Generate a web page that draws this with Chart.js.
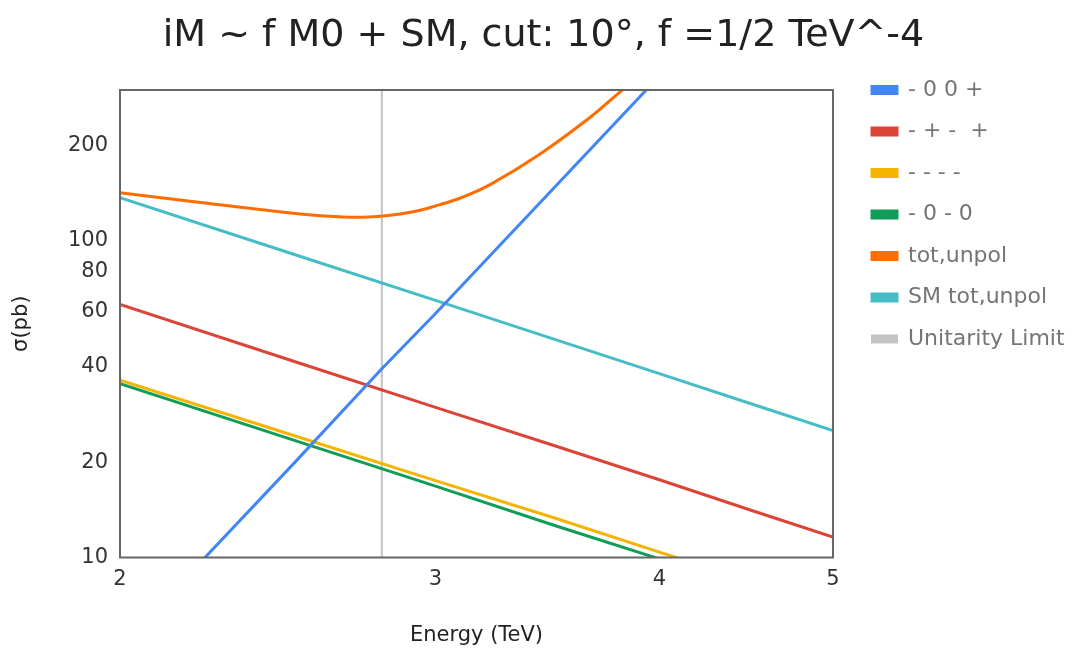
<!DOCTYPE html>
<html>
<head>
<meta charset="utf-8">
<script src="https://cdn.jsdelivr.net/npm/chart.js@4.4.1/dist/chart.umd.min.js"></script>
<style>
  html, body { margin: 0; padding: 0; background: #fff; }
  #wrap { width: 1083px; height: 660px; }
</style>
</head>
<body>
<div id="wrap"><canvas id="chart" width="1083" height="660"></canvas></div>
<script>
const FONT = "'DejaVu Sans', 'Liberation Sans', sans-serif"

// values (energy in TeV, sigma in pb)
const energyGrid = [2, 2.5, 3, 3.5, 4, 4.5, 5]
const xTicks = [2, 3, 4, 5]
const yTicks = [10, 20, 40, 60, 80, 100, 200]
const yRange = [10, 300]

const blueEnergy = [2.2, 2.5, 2.8, 3.0, 3.4, 4.0]
const blueXsec = [9.2, 19.8, 39.5, 59, 125, 332]

const redXsec = [63, 41.7, 29.8, 22.5, 17.6, 14.1, 11.6]
const yellowXsec = [36.3, 24.3, 17.5, 13.3, 10.4, 8.4, 7.0]
const greenXsec = [35.4, 23.5, 16.8, 12.6, 9.9, 8.0, 6.6]
const smXsec = [137, 90.8, 64.9, 48.8, 38.1, 30.6, 25.2]

const totEnergy = [2, 2.2, 2.4, 2.6, 2.75, 2.9, 3.02, 3.1, 3.22, 3.43, 3.66, 3.82, 4.0]
const totXsec = [142, 133, 125.5, 120, 119, 123, 130.5, 137, 151, 188, 246, 302, 370]

const unitarityEnergy = 2.8

const COLORS = {
  blue: "#4285f4",
  red: "#db4437",
  yellow: "#f4b400",
  green: "#0f9d58",
  orange: "#ff6d00",
  cyan: "#46bdc6",
  gray: "#c4c4c4"
}

const LEGEND_PAD = 19.5
const LEGEND_FONT = 22
const LEGEND_WIDTH = 250

const pts = (xs, ys) => xs.map((x, i) => ({ x, y: ys[i] }))

function line(label, data, color, extra) {
  return Object.assign({
    label,
    data,
    borderColor: color,
    backgroundColor: color,
    borderWidth: 3,
    pointRadius: 0,
    fill: false,
    tension: 0
  }, extra || {})
}

const datasets = [
  line("- 0 0 +", pts(blueEnergy, blueXsec), COLORS.blue),
  line("- + -  +", pts(energyGrid, redXsec), COLORS.red),
  line("- - - -", pts(energyGrid, yellowXsec), COLORS.yellow),
  line("- 0 - 0", pts(energyGrid, greenXsec), COLORS.green),
  line("tot,unpol", pts(totEnergy, totXsec), COLORS.orange, { tension: 0.4 }),
  line("SM tot,unpol", pts(energyGrid, smXsec), COLORS.cyan),
  line("Unitarity Limit", pts([unitarityEnergy, unitarityEnergy], yRange), COLORS.gray, { borderWidth: 2 })
]

// frame around the plot area
const frame = {
  id: "frame",
  afterDatasetsDraw(chart) {
    const { ctx, chartArea: a } = chart
    ctx.save()
    ctx.strokeStyle = "#666"
    ctx.lineWidth = 2
    ctx.strokeRect(a.left, a.top, a.right - a.left, a.bottom - a.top)
    ctx.restore()
  }
}

// fixed-width legend column, items lined up with the top of the plot
const legendPlacement = {
  id: "legendPlacement",
  beforeLayout(chart) {
    const legend = chart.legend
    if (legend._fixedFit) return
    const fit = legend.fit
    legend.fit = function () {
      fit.call(this)
      this.width = LEGEND_WIDTH
    }
    legend._fixedFit = true
  },
  afterLayout(chart) {
    const legend = chart.legend
    const a = chart.chartArea
    legend.left = a.right + LEGEND_PAD
    legend.right = legend.left + LEGEND_WIDTH
    legend.top = a.top - LEGEND_PAD - LEGEND_FONT / 2
  }
}

const tickFont = { family: FONT, size: 21 }

new Chart(document.getElementById("chart"), {
  type: "line",
  data: { datasets },
  plugins: [frame, legendPlacement],
  options: {
    responsive: false,
    animation: false,
    layout: { padding: { left: 4, right: 0, top: 0, bottom: 4 } },
    plugins: {
      title: {
        display: true,
        text: "iM ~ f M0 + SM, cut: 10°, f =1/2 TeV^-4",
        color: "#222",
        font: { family: FONT, size: 38, weight: "normal" },
        padding: { top: 13, bottom: 31.4 }
      },
      legend: {
        position: "right",
        align: "start",
        labels: {
          boxWidth: 25,
          boxHeight: 7,
          padding: LEGEND_PAD,
          color: "#757575",
          font: { family: FONT, size: LEGEND_FONT }
        }
      },
      tooltip: { enabled: false }
    },
    scales: {
      x: {
        type: "logarithmic",
        min: 2,
        max: 5,
        grid: { display: false, drawTicks: false },
        border: { display: false },
        afterBuildTicks: (axis) => { axis.ticks = xTicks.map(v => ({ value: v })) },
        afterFit: (axis) => { axis.height = 98.5 },
        ticks: { autoSkip: false, maxRotation: 0, padding: 9, color: "#333", font: tickFont, callback: (v) => String(v) },
        title: { display: true, text: "Energy (TeV)", color: "#222", font: tickFont, padding: { top: 4, bottom: 8 } }
      },
      y: {
        type: "logarithmic",
        min: yRange[0],
        max: yRange[1],
        grid: { display: false, drawTicks: false },
        border: { display: false },
        afterBuildTicks: (axis) => { axis.ticks = yTicks.map(v => ({ value: v })) },
        afterFit: (axis) => { axis.width = 116 },
        ticks: { autoSkip: false, padding: 12, color: "#333", font: tickFont, callback: (v) => String(v) },
        title: { display: true, text: "σ(pb)", color: "#222", font: tickFont, padding: { top: 5, bottom: 0 } }
      }
    }
  }
})
</script>
</body>
</html>
